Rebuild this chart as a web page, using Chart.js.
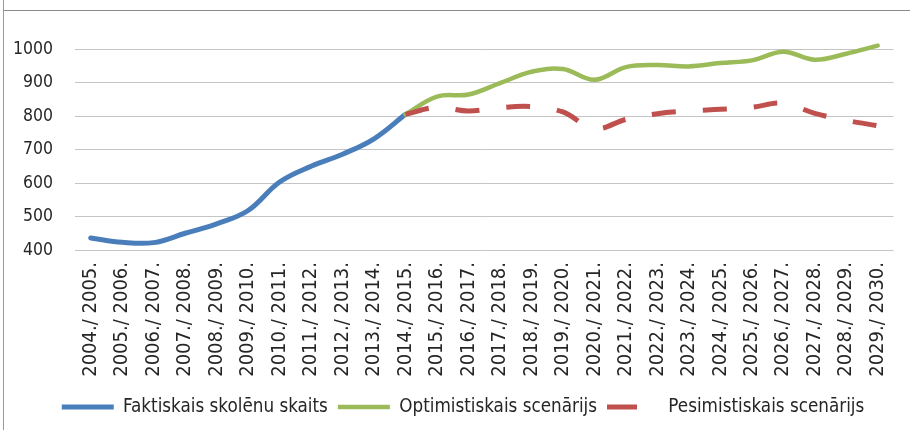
<!DOCTYPE html>
<html>
<head>
<meta charset="utf-8">
<script src="https://cdn.jsdelivr.net/npm/chart.js@4/dist/chart.umd.min.js"></script>
<style>
  html, body { margin: 0; padding: 0; background: #ffffff; }
  #wrap { position: relative; width: 910px; height: 430px; overflow: hidden; }
  #wrap canvas { position: absolute; left: 0; top: 0; }
  #frameTop { position: absolute; left: 3px; top: 10px; right: 0; height: 0; border-top: 1px solid #8a8a8a; }
  #frameLeft { position: absolute; left: 3px; top: 0; bottom: 0; width: 0; border-left: 1px solid #9a9a9a; }
</style>
</head>
<body>
<div id="wrap">
  <canvas id="chart" width="914" height="430"></canvas>
  <div id="frameTop"></div>
  <div id="frameLeft"></div>
</div>
<script>
// School years on the category axis
const schoolYears = [
  '2004./ 2005.', '2005./ 2006.', '2006./ 2007.', '2007./ 2008.', '2008./ 2009.',
  '2009./ 2010.', '2010./ 2011.', '2011./ 2012.', '2012./ 2013.', '2013./ 2014.',
  '2014./ 2015.', '2015./ 2016.', '2016./ 2017.', '2017./ 2018.', '2018./ 2019.',
  '2019./ 2020.', '2020./ 2021.', '2021./ 2022.', '2022./ 2023.', '2023./ 2024.',
  '2024./ 2025.', '2025./ 2026.', '2026./ 2027.', '2027./ 2028.', '2028./ 2029.',
  '2029./ 2030.'
];

// Actual pupil count, 2004./2005. - 2014./2015.
const faktiskais = [436, 423, 422, 450, 478, 518, 603, 650, 686, 732, 805];

// Forecasts, 2014./2015. - 2029./2030.
const forecastStart = 10;
const optimistiskais = [805, 858, 864, 898, 932, 940, 908, 946, 952, 948, 958, 966, 992, 968, 986, 1010];
const pesimistiskais = [805, 826, 815, 825, 828, 812, 762, 790, 807, 815, 820, 826, 838, 808, 787, 771];

// Y axis range and step
const yMin = 400;
const yMax = 1000;
const yStep = 100;

const seriesNames = [
  'Faktiskais skolēnu skaits',
  'Optimistiskais scenārijs',
  'Pesimistiskais scenārijs'
];

const FONT = "'DejaVu Sans Condensed', 'DejaVu Sans', sans-serif";
const TEXT = '#262626';

// Place a partial series onto the full category axis
function onAxis(values, start) {
  const out = new Array(schoolYears.length).fill(null);
  values.forEach((v, i) => { out[start + i] = v; });
  return out;
}

const lineBase = {
  pointRadius: 0,
  pointHoverRadius: 0,
  pointStyle: 'line',
  tension: 0.38,
  fill: false,
  clip: false
};

new Chart(document.getElementById('chart'), {
  type: 'line',
  data: {
    labels: schoolYears,
    datasets: [
      Object.assign({}, lineBase, {
        label: seriesNames[0],
        data: onAxis(faktiskais, 0),
        borderColor: '#4A7EBB',
        backgroundColor: '#4A7EBB',
        borderWidth: 5,
        borderCapStyle: 'round',
        order: 3
      }),
      Object.assign({}, lineBase, {
        label: seriesNames[1],
        data: onAxis(optimistiskais, forecastStart),
        borderColor: '#9BBB59',
        backgroundColor: '#9BBB59',
        borderWidth: 4.5,
        borderCapStyle: 'round',
        order: 2
      }),
      Object.assign({}, lineBase, {
        label: seriesNames[2],
        data: onAxis(pesimistiskais, forecastStart),
        borderColor: '#C0504D',
        backgroundColor: '#C0504D',
        borderWidth: 5,
        borderDash: [24, 27],
        borderCapStyle: 'butt',
        order: 1
      })
    ]
  },
  options: {
    responsive: false,
    animation: false,
    events: [],
    layout: { padding: { top: 49, left: 12, right: 0, bottom: 3.6 } },
    plugins: {
      tooltip: { enabled: false },
      legend: {
        position: 'bottom',
        labels: {
          usePointStyle: true,
          pointStyleWidth: 52,
          padding: 10,
          color: TEXT,
          font: { family: FONT, size: 18.7 },
          sort: (a, b) => a.datasetIndex - b.datasetIndex,
          // legend samples use each series' own line width; a dashed series shows one dash
          generateLabels(chart) {
            const items = Chart.defaults.plugins.legend.labels.generateLabels(chart);
            items.forEach(item => {
              const ds = chart.data.datasets[item.datasetIndex];
              item.lineWidth = ds.borderWidth;
              item.lineDash = ds.borderDash ? [ds.borderDash[0] + 6, 80] : [];
              item.lineCap = 'butt';
              item.strokeStyle = ds.borderColor;
            });
            return items;
          }
        }
      }
    },
    scales: {
      x: {
        offset: true,
        grid: { display: false, drawTicks: false, offset: true },
        border: { display: false },
        ticks: {
          autoSkip: false,
          minRotation: 90,
          maxRotation: 90,
          padding: 12,
          color: TEXT,
          font: { family: FONT, size: 20 }
        },
        afterFit(scale) { scale.height = 137.7; }
      },
      y: {
        min: yMin,
        max: yMax,
        ticks: {
          stepSize: yStep,
          padding: 22,
          color: TEXT,
          font: { family: FONT, size: 17.5 },
          callback: value => String(value)
        },
        grid: { color: '#c4c4c4', lineWidth: 1, drawTicks: false },
        border: { display: false },
        afterFit(scale) { scale.width = 63; }
      },
      // empty right-hand strip that keeps the plot edge and the legend centre in place
      yRight: {
        position: 'right',
        min: yMin,
        max: yMax,
        grid: { display: false, drawTicks: false },
        border: { display: false },
        ticks: { display: false },
        afterFit(scale) { scale.width = 16; }
      }
    }
  }
});
</script>
</body>
</html>
